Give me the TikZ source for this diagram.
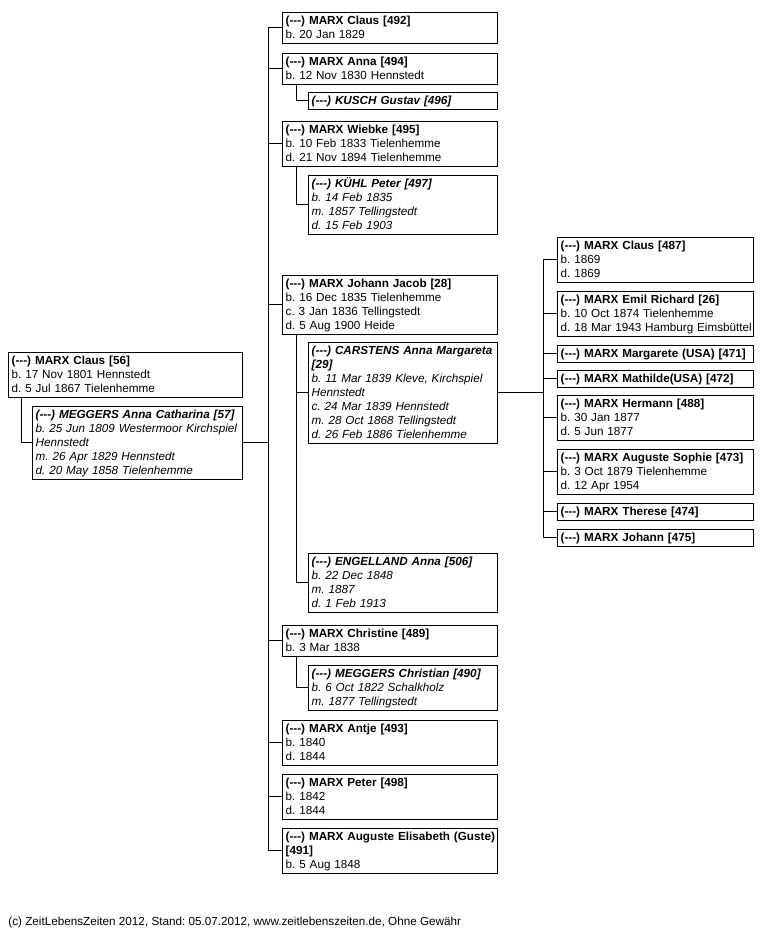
\documentclass[tikz,border=0pt]{standalone}
\usepackage{fontspec}
\setmainfont{Liberation Sans}[Ligatures=TeXOff]
\newcommand{\unk}{(---)}
\newcommand{\topstrut}{\rule{0pt}{11.1pt}}
\newcommand{\botstrut}{\rule[-3.4pt]{0pt}{3.4pt}}

\begin{document}
\frenchspacing
\begin{tikzpicture}[x=1pt, y=-1pt, line width=0.9pt,
    every node/.style={font=\fontsize{11.7}{14}\selectfont},
    person/.style={draw, anchor=north west, align=left, inner xsep=3.2pt, inner ysep=1pt,
      execute at begin node=\topstrut, execute at end node=\botstrut},
    root/.style={person, text width=227.5pt},
    rootwife/.style={person, text width=203.5pt, font=\fontsize{11.7}{14}\selectfont\itshape},
    child/.style={person, text width=208.5pt},
    spouse/.style={person, text width=182.5pt, font=\fontsize{11.7}{14}\selectfont\itshape},
    grandchild/.style={person, text width=189.5pt}]
  \useasboundingbox (0,0) rectangle (767,932);

  % parents
  \node[root] (claus56) at (8,352) {\textbf{\unk{} MARX Claus [56]}\\b. 17 Nov 1801 Hennstedt\\d. 5 Jul 1867 Tielenhemme};
  \node[rootwife] (meg57) at (32,406) {\textbf{\unk{} MEGGERS Anna Catharina [57]}\\\mbox{b. 25 Jun 1809 Westermoor Kirchspiel}\\Hennstedt\\m. 26 Apr 1829 Hennstedt\\d. 20 May 1858 Tielenhemme};

  % children
  \node[child] (claus492) at (282,12) {\textbf{\unk{} MARX Claus [492]}\\b. 20 Jan 1829};
  \node[child] (anna494) at (282,53) {\textbf{\unk{} MARX Anna [494]}\\b. 12 Nov 1830 Hennstedt};
  \node[spouse] (kusch496) at (308,92) {\textbf{\unk{} KUSCH Gustav [496]}};
  \node[child] (wiebke495) at (282,121) {\textbf{\unk{} MARX Wiebke [495]}\\b. 10 Feb 1833 Tielenhemme\\d. 21 Nov 1894 Tielenhemme};
  \node[spouse] (kuehl497) at (308,175) {\textbf{\unk{} KÜHL Peter [497]}\\b. 14 Feb 1835\\m. 1857 Tellingstedt\\d. 15 Feb 1903};
  \node[child] (jj28) at (282,275) {\textbf{\unk{} MARX Johann Jacob [28]}\\b. 16 Dec 1835 Tielenhemme\\c. 3 Jan 1836 Tellingstedt\\d. 5 Aug 1900 Heide};
  \node[spouse] (car29) at (308,342) {\mbox{\textbf{\unk{} CARSTENS Anna Margareta}}\\\textbf{[29]}\\\mbox{b. 11 Mar 1839 Kleve, Kirchspiel}\\Hennstedt\\c. 24 Mar 1839 Hennstedt\\m. 28 Oct 1868 Tellingstedt\\d. 26 Feb 1886 Tielenhemme};
  \node[spouse] (eng506) at (308,553) {\textbf{\unk{} ENGELLAND Anna [506]}\\b. 22 Dec 1848\\m. 1887\\d. 1 Feb 1913};
  \node[child] (chr489) at (282,625) {\textbf{\unk{} MARX Christine [489]}\\b. 3 Mar 1838};
  \node[spouse] (meg490) at (308,665) {\textbf{\unk{} MEGGERS Christian [490]}\\b. 6 Oct 1822 Schalkholz\\m. 1877 Tellingstedt};
  \node[child] (antje493) at (282,720) {\textbf{\unk{} MARX Antje [493]}\\b. 1840\\d. 1844};
  \node[child] (peter498) at (282,774) {\textbf{\unk{} MARX Peter [498]}\\b. 1842\\d. 1844};
  \node[child] (ae491) at (282,828) {\mbox{\textbf{\unk{} MARX Auguste Elisabeth (Guste)}}\\\textbf{[491]}\\b. 5 Aug 1848};

  % grandchildren
  \node[grandchild] (claus487) at (557,237) {\textbf{\unk{} MARX Claus [487]}\\b. 1869\\d. 1869};
  \node[grandchild] (emil26) at (557,291) {\textbf{\unk{} MARX Emil Richard [26]}\\b. 10 Oct 1874 Tielenhemme\\\mbox{d. 18 Mar 1943 Hamburg Eimsbüttel}};
  \node[grandchild] (marg471) at (557,345) {\mbox{\textbf{\unk{} MARX Margarete (USA) [471]}}};
  \node[grandchild] (math472) at (557,370) {\textbf{\unk{} MARX Mathilde(USA) [472]}};
  \node[grandchild] (herm488) at (557,395) {\textbf{\unk{} MARX Hermann [488]}\\b. 30 Jan 1877\\d. 5 Jun 1877};
  \node[grandchild] (as473) at (557,449) {\mbox{\textbf{\unk{} MARX Auguste Sophie [473]}}\\b. 3 Oct 1879 Tielenhemme\\d. 12 Apr 1954};
  \node[grandchild] (ther474) at (557,503) {\textbf{\unk{} MARX Therese [474]}};
  \node[grandchild] (joh475) at (557,529) {\textbf{\unk{} MARX Johann [475]}};

  \node[anchor=base west, inner sep=0pt] (foot) at (8,925) {(c) ZeitLebensZeiten 2012, Stand: 05.07.2012, www.zeitlebenszeiten.de, Ohne Gewähr};

  % connectors
  \coordinate (tm) at (268,0);
  \coordinate (tr) at (543,0);
  \draw ([xshift=13]claus56.south west) |- (meg57.west);
  \draw (meg57.east) -- (meg57.east -| tm);
  \draw (claus492.west -| tm) -- (ae491.west -| tm);
  \foreach \n in {claus492,anna494,wiebke495,jj28,chr489,antje493,peter498,ae491}
    \draw (\n.west) -- (\n.west -| tm);
  \draw ([xshift=14]anna494.south west) |- (kusch496.west);
  \draw ([xshift=14]wiebke495.south west) |- (kuehl497.west);
  \draw ([xshift=14]jj28.south west) |- (car29.west);
  \draw ([xshift=14]jj28.south west) |- (eng506.west);
  \draw ([xshift=14]chr489.south west) |- (meg490.west);
  \draw (car29.east) -- (car29.east -| tr);
  \draw (claus487.west -| tr) -- (joh475.west -| tr);
  \foreach \n in {claus487,emil26,marg471,math472,herm488,as473,ther474,joh475}
    \draw (\n.west) -- (\n.west -| tr);
\end{tikzpicture}
\end{document}
